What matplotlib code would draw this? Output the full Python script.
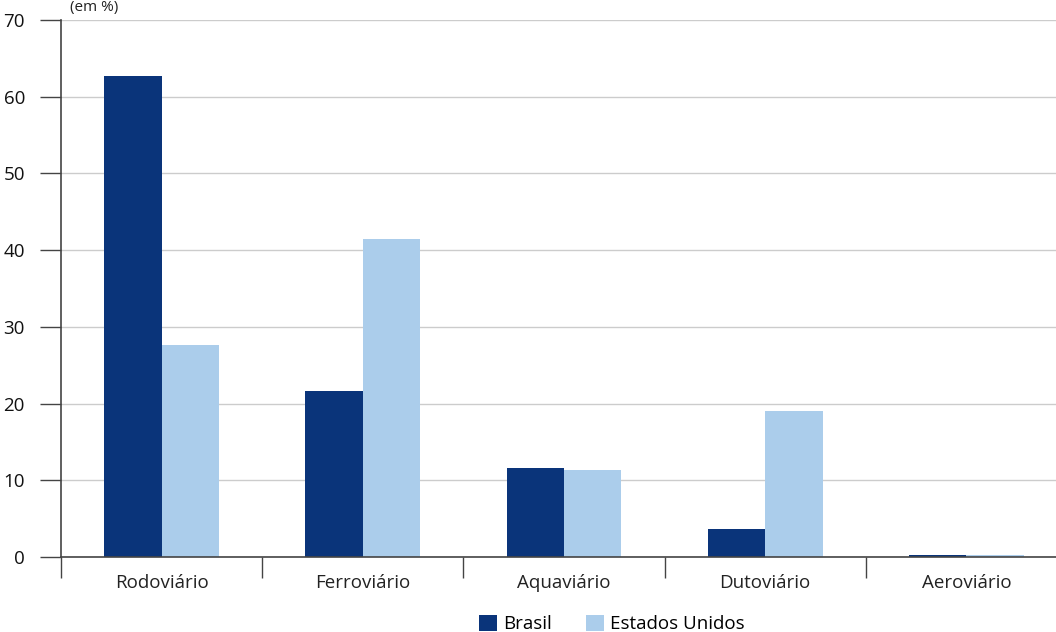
import numpy as np
import matplotlib
matplotlib.use('Agg')
import matplotlib.pyplot as plt

categorias = ["Rodoviário", "Ferroviário", "Aquaviário", "Dutoviário", "Aeroviário"]
brasil = [62.7, 21.7, 11.6, 3.6, 0.2]
eua = [27.7, 41.4, 11.3, 19.0, 0.2]
series = ["Brasil", "Estados Unidos"]

plt.rcParams['font.family'] = ['Open Sans', 'DejaVu Sans']
plt.rcParams['font.size'] = 13.5

fig = plt.figure(figsize=(10.56, 6.32), dpi=100)
ax = fig.add_axes([61/1056, 75/632, 1006/1056, 537/632])

x = np.arange(len(categorias))
w = 0.285
ax.bar(x - w/2, brasil, w, color='#0a347a', label=series[0], zorder=2)
ax.bar(x + w/2, eua, w, color='#abcdeb', label=series[1], zorder=2)

ax.set_xlim(-0.5, len(categorias) - 0.5)
ax.set_ylim(0, 70)
ax.set_yticks(np.arange(0, 71, 10))
ax.yaxis.grid(True, color='#cccccc', linewidth=1, zorder=0)
ax.set_axisbelow(True)

ax.set_xticks(x)
ax.set_xticklabels(categorias, color='#222222')
ax.set_xticks(np.arange(-0.5, len(categorias), 1), minor=True)
ax.tick_params(axis='x', which='major', length=0, pad=12)
ax.tick_params(axis='x', which='minor', length=15, width=1, color='#444444', direction='out')
ax.tick_params(axis='y', length=15, width=1, color='#444444', pad=11, labelcolor='#111111')

for s in ['top', 'right']:
    ax.spines[s].set_visible(False)
for s in ['left', 'bottom']:
    ax.spines[s].set_color('#444444')
    ax.spines[s].set_linewidth(1.2)

fig.text(70/1056, 1.0, "(em %)", ha='left', va='top', color='#222222', fontsize=11)

fig.legend(loc='center', bbox_to_anchor=(0.5795, 1 - 624/632), ncol=2, frameon=False,
           handlelength=0.95, handleheight=0.95, handletextpad=0.35, columnspacing=1.8)

fig.savefig('out.png', dpi=100)
